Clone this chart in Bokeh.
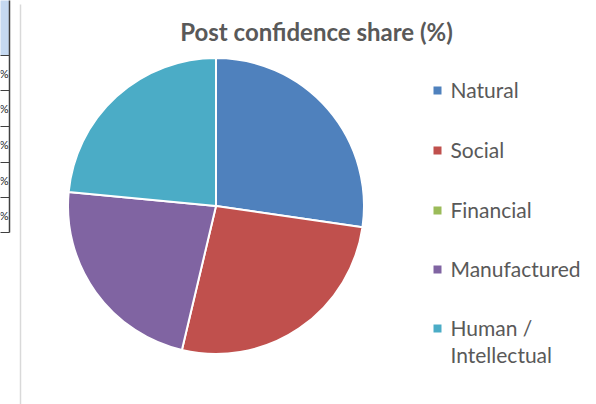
import math
from bokeh.plotting import figure
from bokeh.models import Range1d, ColumnDataSource
from bokeh.core.properties import value
from bokeh.embed import file_html
from bokeh.resources import INLINE

# ---- data ----
title_text = "Post confidence share (%)"
categories = ["Natural", "Social", "Financial", "Manufactured", "Human /\nIntellectual"]
shares = [27.3, 26.4, 0.0, 22.8, 23.5]
colors = ["#4F81BD", "#C0504D", "#9BBB59", "#8064A2", "#4BACC6"]

W, H = 596, 404
p = figure(width=W, height=H, output_backend="svg", toolbar_location=None,
           x_range=Range1d(0, W), y_range=Range1d(0, H), min_border=0)
p.axis.visible = False
p.grid.visible = False
p.outline_line_color = None
p.background_fill_color = "white"
p.border_fill_color = "white"

def Y(y):
    return H - y

# ---- fragment of worksheet table at left edge ----
p.quad(left=[-5], right=[9], top=[Y(-2)], bottom=[Y(55)], fill_color="#C5D9F1", line_color=None)
row_edges = [55, 90, 126, 162, 197, 232]
for i in range(len(row_edges) - 1):
    p.text(x=[8], y=[Y((row_edges[i] + row_edges[i + 1]) / 2)], text=["%"],
           text_align="right", text_baseline="middle", text_font=value("Lato"),
           text_font_size="11px", text_color="#222222")
p.segment(x0=[-5] * len(row_edges), x1=[9] * len(row_edges), y0=[Y(r) for r in row_edges],
          y1=[Y(r) for r in row_edges], line_color="#404040", line_width=1)
p.segment(x0=[9], x1=[9], y0=[Y(-2)], y1=[Y(232)], line_color="#404040", line_width=1.5)

# ---- chart area border ----
p.segment(x0=[20], x1=[20], y0=[Y(4)], y1=[Y(410)], line_color="#D9D9D9", line_width=1.5)

# ---- title ----
p.text(x=[316], y=[Y(31)], text=[title_text], text_align="center", text_baseline="middle",
       text_font=value("Lato"), text_font_style="bold", text_font_size="24px",
       text_color="#595959")

# ---- pie ----
cx, cy, r = 215.5, Y(205.5), 148
total = sum(shares)
starts, ends, cols = [], [], []
acc = 0.0
for s, c in zip(shares, colors):
    a0 = math.pi / 2 - acc / total * 2 * math.pi
    acc += s
    a1 = math.pi / 2 - acc / total * 2 * math.pi
    if s > 0:
        starts.append(a0)
        ends.append(a1)
        cols.append(c)
src = ColumnDataSource(dict(start=starts, end=ends, color=cols))
p.wedge(x=cx, y=cy, radius=r, radius_units="screen", start_angle="start", end_angle="end",
        direction="clock", fill_color="color", line_color="white", line_width=2, source=src)

# ---- legend ----
leg_y = [89, 149, 209, 268, 327]
for lab, col, ly in zip(categories, colors, leg_y):
    p.rect(x=[437], y=[Y(ly + 1)], width=8, height=8, width_units="screen", height_units="screen",
           fill_color=col, line_color=None)
    lines = lab.split("\n")
    for k, t in enumerate(lines):
        p.text(x=[450], y=[Y(ly + k * 27)], text=[t], text_align="left", text_baseline="middle",
               text_font=value("Lato"), text_font_size="21px", text_color="#595959")

open("out.html", "w").write(file_html(p, INLINE))
